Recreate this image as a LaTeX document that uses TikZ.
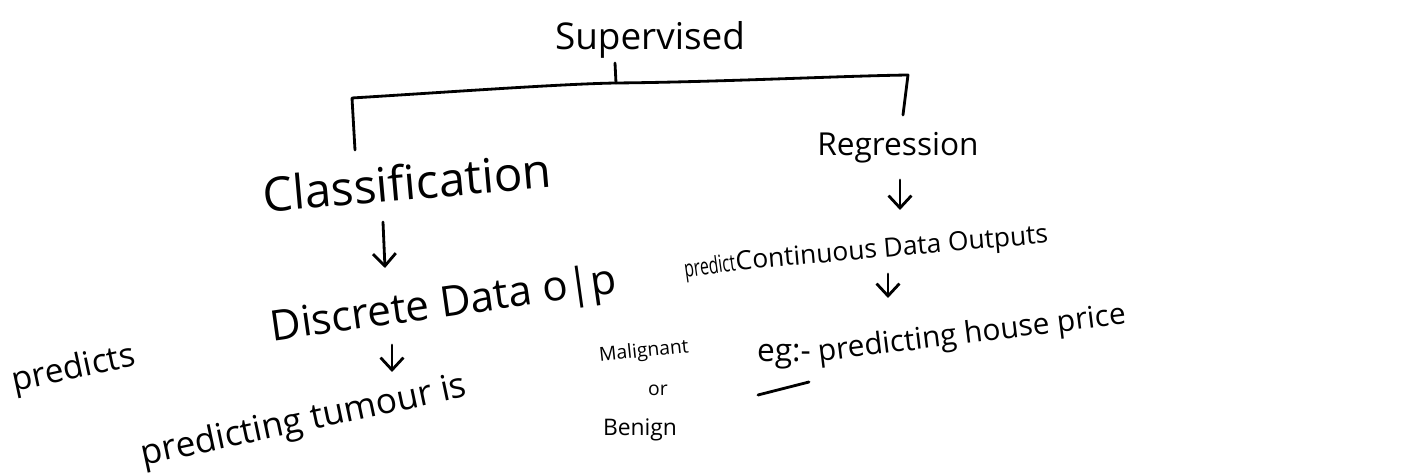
\documentclass[tikz,border=0pt]{standalone}
\usepackage{fontspec}
\setmainfont{Open Sans}
\usetikzlibrary{arrows.meta}
\begin{document}
\begin{tikzpicture}[x=0.02cm,y=-0.02cm,
  ink/.style={line width=1.6pt,line cap=round,line join=round},
  hand/.style={inner sep=0pt,anchor=center},
  downarrow/.style={ink,-{Straight Barb[length=7pt,width=13pt,line width=1.6pt]}},
]
\useasboundingbox[fill=white] (0,0) rectangle (1414,475);

% labels
\node[hand,font=\fontsize{21}{24}\selectfont] (sup) at (650,40) {Supervised};
\node[hand,font=\fontsize{27}{30}\selectfont,rotate=5] (cls) at (407,182) {Classification};
\node[hand,font=\fontsize{18}{21}\selectfont] (reg) at (898,148) {Regression};
\node[hand,font=\fontsize{24}{27}\selectfont,rotate=8] (disc) at (444,306) {Discrete Data o|p};
\node[hand,font=\fontsize{19}{22}\selectfont,rotate=12] (preds) at (74,370) {predicts};
\node[hand,font=\fontsize{20}{23}\selectfont,rotate=12] (tum) at (304,422) {predicting tumour is};
\node[hand,font=\fontsize{11}{13}\selectfont,rotate=6] (mal) at (644,352) {Malignant};
\node[hand,font=\fontsize{11}{13}\selectfont] (orw) at (658,390) {or};
\node[hand,font=\fontsize{13}{15}\selectfont] (ben) at (640,430) {Benign};
\node[hand,font=\fontsize{9}{11}\selectfont,rotate=8,yscale=1.5] (pred) at (710,268) {predict};
\node[hand,font=\fontsize{15}{18}\selectfont,rotate=5] (cont) at (892,250) {Continuous Data Outputs};
\node[hand,font=\fontsize{18}{21}\selectfont] (eg) at (784,357) {eg:-};
\node[hand,font=\fontsize{17}{20}\selectfont,rotate=7] (house) at (972,335) {predicting house price};

% bracket from Supervised to its two branches
\coordinate (stemtop) at (615,63);
\coordinate (stembot) at (616,83);
\coordinate (lcorner) at (352,98);
\coordinate (lend) at (355,150);
\coordinate (rcorner) at (908,75);
\coordinate (rend) at (903,115);
\draw[ink] (stemtop) -- (stembot);
\draw[ink] (lend) -- (lcorner) .. controls (450,92) and (560,84) .. (stembot)
  .. controls (720,82) and (840,76) .. (rcorner) -- (rend);

% arrows
\coordinate (a1s) at (383,222);
\coordinate (a1e) at (385,268);
\draw[downarrow] (a1s) -- (a1e);
\coordinate (a2s) at (900,180);
\coordinate (a2e) at (900,210);
\draw[downarrow] (a2s) -- (a2e);
\coordinate (a3s) at (888,274);
\coordinate (a3e) at (888,298);
\draw[downarrow] (a3s) -- (a3e);
\coordinate (a4s) at (392,345);
\coordinate (a4e) at (392,372);
\draw[downarrow] (a4s) -- (a4e);

% underline of eg
\coordinate (ul1) at (758,395);
\coordinate (ul2) at (809,382);
\draw[ink] (ul1) -- (ul2);
\end{tikzpicture}
\end{document}
